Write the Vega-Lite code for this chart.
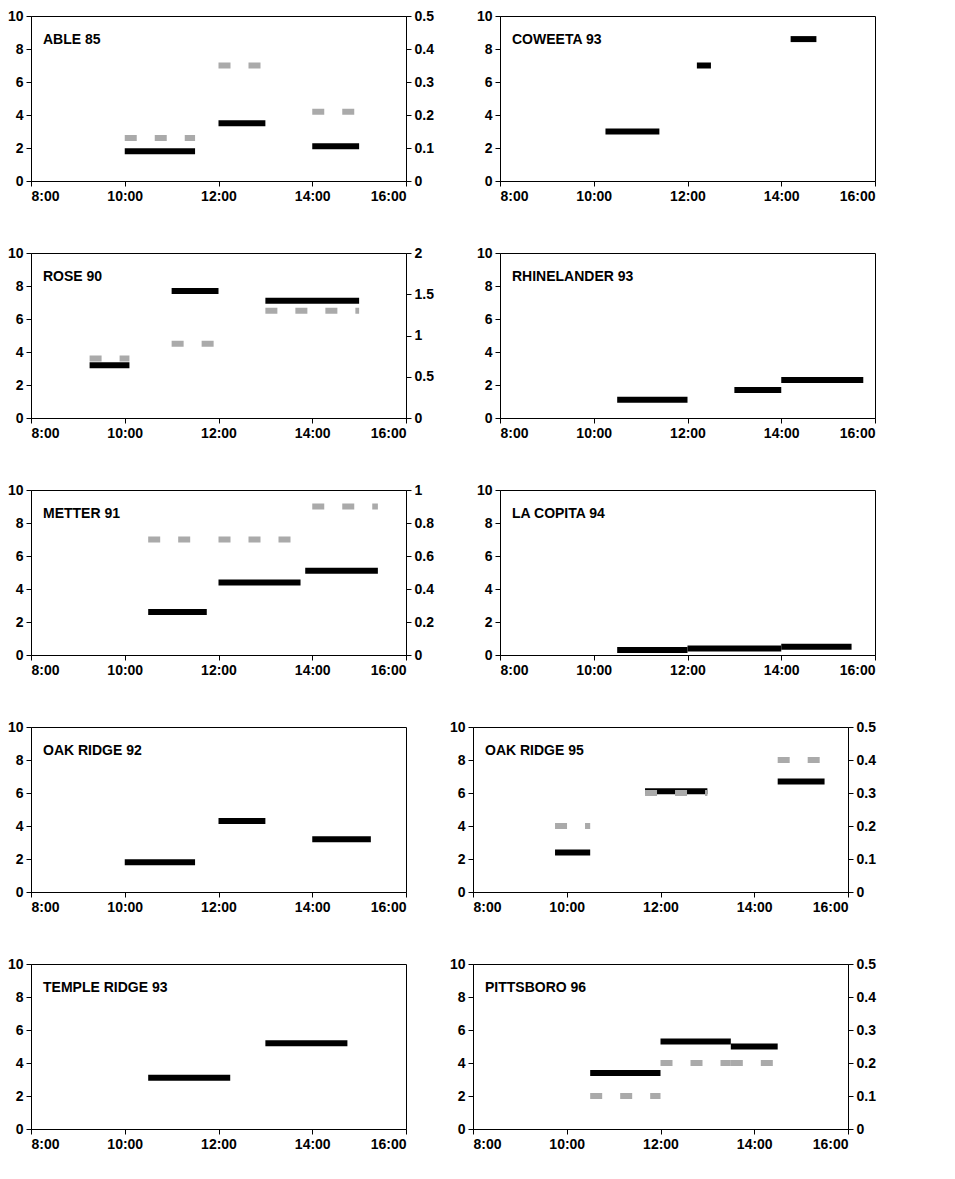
{
  "$schema": "https://vega.github.io/schema/vega-lite/v6.json",
  "padding": {"left": 6, "top": 8, "right": 8, "bottom": 4},
  "config": {
    "font": "Liberation Sans",
    "view": {"stroke": "black", "strokeWidth": 1},
    "axis": {"grid": false, "title": null, "labelFontSize": 14, "labelFontWeight": "bold", "labelColor": "black", "domainColor": "black", "tickColor": "black", "tickSize": 5, "labelPadding": 3, "format": "~r"},
    "title": {"anchor": "start", "frame": "group", "fontSize": 14, "fontWeight": "bold", "offset": -38, "dx": 12, "color": "black"},
    "concat": {"spacing": 41}
  },
  "data": {"values": [
    {"p": "ABLE 85", "k": "b", "s": 10, "e": 11.5, "v": 1.8},
    {"p": "ABLE 85", "k": "b", "s": 12, "e": 13, "v": 3.5},
    {"p": "ABLE 85", "k": "b", "s": 14, "e": 15, "v": 2.1},
    {"p": "ABLE 85", "k": "g", "s": 10, "e": 11.5, "v": 0.13},
    {"p": "ABLE 85", "k": "g", "s": 12, "e": 13, "v": 0.35},
    {"p": "ABLE 85", "k": "g", "s": 14, "e": 15, "v": 0.21},
    {"p": "COWEETA 93", "k": "b", "s": 10.25, "e": 11.4, "v": 3.0},
    {"p": "COWEETA 93", "k": "b", "s": 12.2, "e": 12.5, "v": 7.0},
    {"p": "COWEETA 93", "k": "b", "s": 14.2, "e": 14.75, "v": 8.6},
    {"p": "ROSE 90", "k": "b", "s": 9.25, "e": 10.1, "v": 3.2},
    {"p": "ROSE 90", "k": "b", "s": 11, "e": 12, "v": 7.7},
    {"p": "ROSE 90", "k": "b", "s": 13, "e": 15, "v": 7.1},
    {"p": "ROSE 90", "k": "g", "s": 9.25, "e": 10.1, "v": 0.72},
    {"p": "ROSE 90", "k": "g", "s": 11, "e": 12, "v": 0.9},
    {"p": "ROSE 90", "k": "g", "s": 13, "e": 15, "v": 1.3},
    {"p": "RHINELANDER 93", "k": "b", "s": 10.5, "e": 12, "v": 1.1},
    {"p": "RHINELANDER 93", "k": "b", "s": 13, "e": 14, "v": 1.7},
    {"p": "RHINELANDER 93", "k": "b", "s": 14, "e": 15.75, "v": 2.3},
    {"p": "METTER 91", "k": "b", "s": 10.5, "e": 11.75, "v": 2.6},
    {"p": "METTER 91", "k": "b", "s": 12, "e": 13.75, "v": 4.4},
    {"p": "METTER 91", "k": "b", "s": 13.85, "e": 15.4, "v": 5.1},
    {"p": "METTER 91", "k": "g", "s": 10.5, "e": 11.75, "v": 0.7},
    {"p": "METTER 91", "k": "g", "s": 12, "e": 13.75, "v": 0.7},
    {"p": "METTER 91", "k": "g", "s": 14, "e": 15.4, "v": 0.9},
    {"p": "LA COPITA 94", "k": "b", "s": 10.5, "e": 12, "v": 0.3},
    {"p": "LA COPITA 94", "k": "b", "s": 12, "e": 14, "v": 0.4},
    {"p": "LA COPITA 94", "k": "b", "s": 14, "e": 15.5, "v": 0.5},
    {"p": "OAK RIDGE 92", "k": "b", "s": 10, "e": 11.5, "v": 1.8},
    {"p": "OAK RIDGE 92", "k": "b", "s": 12, "e": 13, "v": 4.3},
    {"p": "OAK RIDGE 92", "k": "b", "s": 14, "e": 15.25, "v": 3.2},
    {"p": "OAK RIDGE 95", "k": "b", "s": 9.75, "e": 10.5, "v": 2.4},
    {"p": "OAK RIDGE 95", "k": "b", "s": 11.67, "e": 13, "v": 6.1},
    {"p": "OAK RIDGE 95", "k": "b", "s": 14.5, "e": 15.5, "v": 6.7},
    {"p": "OAK RIDGE 95", "k": "g", "s": 9.75, "e": 10.5, "v": 0.2},
    {"p": "OAK RIDGE 95", "k": "g", "s": 11.67, "e": 13, "v": 0.3},
    {"p": "OAK RIDGE 95", "k": "g", "s": 14.5, "e": 15.5, "v": 0.4},
    {"p": "TEMPLE RIDGE 93", "k": "b", "s": 10.5, "e": 12.25, "v": 3.1},
    {"p": "TEMPLE RIDGE 93", "k": "b", "s": 13, "e": 14.75, "v": 5.2},
    {"p": "PITTSBORO 96", "k": "b", "s": 10.5, "e": 12, "v": 3.4},
    {"p": "PITTSBORO 96", "k": "b", "s": 12, "e": 13.5, "v": 5.3},
    {"p": "PITTSBORO 96", "k": "b", "s": 13.5, "e": 14.5, "v": 5.0},
    {"p": "PITTSBORO 96", "k": "g", "s": 10.5, "e": 12, "v": 0.1},
    {"p": "PITTSBORO 96", "k": "g", "s": 12, "e": 13.5, "v": 0.2},
    {"p": "PITTSBORO 96", "k": "g", "s": 13.5, "e": 14.4, "v": 0.2}
  ]},
  "vconcat": [
    {"hconcat": [
      {"width": 375, "height": 165, "title": "ABLE 85", "transform": [{"filter": "datum.p=='ABLE 85'"}], "resolve": {"scale": {"y": "independent"}}, "layer": [
        {"transform": [{"filter": "datum.k=='b'"}], "mark": {"type": "rule", "strokeWidth": 6, "color": "black"}, "encoding": {"x": {"field": "s", "type": "quantitative", "scale": {"domain": [8, 16]}, "axis": {"values": [8, 10, 12, 14, 16], "labelExpr": "datum.value+':00'"}}, "x2": {"field": "e"}, "y": {"field": "v", "type": "quantitative", "scale": {"domain": [0, 10]}, "axis": {"values": [0, 2, 4, 6, 8, 10]}}}},
        {"transform": [{"filter": "datum.k=='g'"}], "mark": {"type": "rule", "strokeWidth": 6, "color": "#aaaaaa", "strokeDash": [12, 18]}, "encoding": {"x": {"field": "s", "type": "quantitative"}, "x2": {"field": "e"}, "y": {"field": "v", "type": "quantitative", "scale": {"domain": [0, 0.5]}, "axis": {"orient": "right", "values": [0, 0.1, 0.2, 0.3, 0.4, 0.5]}}}}
      ]},
      {"width": 375, "height": 165, "title": "COWEETA 93", "transform": [{"filter": "datum.p=='COWEETA 93'"}], "layer": [
        {"transform": [{"filter": "datum.k=='b'"}], "mark": {"type": "rule", "strokeWidth": 6, "color": "black"}, "encoding": {"x": {"field": "s", "type": "quantitative", "scale": {"domain": [8, 16]}, "axis": {"values": [8, 10, 12, 14, 16], "labelExpr": "datum.value+':00'"}}, "x2": {"field": "e"}, "y": {"field": "v", "type": "quantitative", "scale": {"domain": [0, 10]}, "axis": {"values": [0, 2, 4, 6, 8, 10]}}}}
      ]}
    ]},
    {"hconcat": [
      {"width": 375, "height": 165, "title": "ROSE 90", "transform": [{"filter": "datum.p=='ROSE 90'"}], "resolve": {"scale": {"y": "independent"}}, "layer": [
        {"transform": [{"filter": "datum.k=='b'"}], "mark": {"type": "rule", "strokeWidth": 6, "color": "black"}, "encoding": {"x": {"field": "s", "type": "quantitative", "scale": {"domain": [8, 16]}, "axis": {"values": [8, 10, 12, 14, 16], "labelExpr": "datum.value+':00'"}}, "x2": {"field": "e"}, "y": {"field": "v", "type": "quantitative", "scale": {"domain": [0, 10]}, "axis": {"values": [0, 2, 4, 6, 8, 10]}}}},
        {"transform": [{"filter": "datum.k=='g'"}], "mark": {"type": "rule", "strokeWidth": 6, "color": "#aaaaaa", "strokeDash": [12, 18]}, "encoding": {"x": {"field": "s", "type": "quantitative"}, "x2": {"field": "e"}, "y": {"field": "v", "type": "quantitative", "scale": {"domain": [0, 2]}, "axis": {"orient": "right", "values": [0, 0.5, 1, 1.5, 2]}}}}
      ]},
      {"width": 375, "height": 165, "title": "RHINELANDER 93", "transform": [{"filter": "datum.p=='RHINELANDER 93'"}], "layer": [
        {"transform": [{"filter": "datum.k=='b'"}], "mark": {"type": "rule", "strokeWidth": 6, "color": "black"}, "encoding": {"x": {"field": "s", "type": "quantitative", "scale": {"domain": [8, 16]}, "axis": {"values": [8, 10, 12, 14, 16], "labelExpr": "datum.value+':00'"}}, "x2": {"field": "e"}, "y": {"field": "v", "type": "quantitative", "scale": {"domain": [0, 10]}, "axis": {"values": [0, 2, 4, 6, 8, 10]}}}}
      ]}
    ]},
    {"hconcat": [
      {"width": 375, "height": 165, "title": "METTER 91", "transform": [{"filter": "datum.p=='METTER 91'"}], "resolve": {"scale": {"y": "independent"}}, "layer": [
        {"transform": [{"filter": "datum.k=='b'"}], "mark": {"type": "rule", "strokeWidth": 6, "color": "black"}, "encoding": {"x": {"field": "s", "type": "quantitative", "scale": {"domain": [8, 16]}, "axis": {"values": [8, 10, 12, 14, 16], "labelExpr": "datum.value+':00'"}}, "x2": {"field": "e"}, "y": {"field": "v", "type": "quantitative", "scale": {"domain": [0, 10]}, "axis": {"values": [0, 2, 4, 6, 8, 10]}}}},
        {"transform": [{"filter": "datum.k=='g'"}], "mark": {"type": "rule", "strokeWidth": 6, "color": "#aaaaaa", "strokeDash": [12, 18]}, "encoding": {"x": {"field": "s", "type": "quantitative"}, "x2": {"field": "e"}, "y": {"field": "v", "type": "quantitative", "scale": {"domain": [0, 1]}, "axis": {"orient": "right", "values": [0, 0.2, 0.4, 0.6, 0.8, 1]}}}}
      ]},
      {"width": 375, "height": 165, "title": "LA COPITA 94", "transform": [{"filter": "datum.p=='LA COPITA 94'"}], "layer": [
        {"transform": [{"filter": "datum.k=='b'"}], "mark": {"type": "rule", "strokeWidth": 6, "color": "black"}, "encoding": {"x": {"field": "s", "type": "quantitative", "scale": {"domain": [8, 16]}, "axis": {"values": [8, 10, 12, 14, 16], "labelExpr": "datum.value+':00'"}}, "x2": {"field": "e"}, "y": {"field": "v", "type": "quantitative", "scale": {"domain": [0, 10]}, "axis": {"values": [0, 2, 4, 6, 8, 10]}}}}
      ]}
    ]},
    {"hconcat": [
      {"width": 375, "height": 165, "title": "OAK RIDGE 92", "transform": [{"filter": "datum.p=='OAK RIDGE 92'"}], "layer": [
        {"transform": [{"filter": "datum.k=='b'"}], "mark": {"type": "rule", "strokeWidth": 6, "color": "black"}, "encoding": {"x": {"field": "s", "type": "quantitative", "scale": {"domain": [8, 16]}, "axis": {"values": [8, 10, 12, 14, 16], "labelExpr": "datum.value+':00'"}}, "x2": {"field": "e"}, "y": {"field": "v", "type": "quantitative", "scale": {"domain": [0, 10]}, "axis": {"values": [0, 2, 4, 6, 8, 10]}}}}
      ]},
      {"width": 375, "height": 165, "title": "OAK RIDGE 95", "transform": [{"filter": "datum.p=='OAK RIDGE 95'"}], "resolve": {"scale": {"y": "independent"}}, "layer": [
        {"transform": [{"filter": "datum.k=='b'"}], "mark": {"type": "rule", "strokeWidth": 6, "color": "black"}, "encoding": {"x": {"field": "s", "type": "quantitative", "scale": {"domain": [8, 16]}, "axis": {"values": [8, 10, 12, 14, 16], "labelExpr": "datum.value+':00'"}}, "x2": {"field": "e"}, "y": {"field": "v", "type": "quantitative", "scale": {"domain": [0, 10]}, "axis": {"values": [0, 2, 4, 6, 8, 10]}}}},
        {"transform": [{"filter": "datum.k=='g'"}], "mark": {"type": "rule", "strokeWidth": 6, "color": "#aaaaaa", "strokeDash": [12, 18]}, "encoding": {"x": {"field": "s", "type": "quantitative"}, "x2": {"field": "e"}, "y": {"field": "v", "type": "quantitative", "scale": {"domain": [0, 0.5]}, "axis": {"orient": "right", "values": [0, 0.1, 0.2, 0.3, 0.4, 0.5]}}}}
      ]}
    ]},
    {"hconcat": [
      {"width": 375, "height": 165, "title": "TEMPLE RIDGE 93", "transform": [{"filter": "datum.p=='TEMPLE RIDGE 93'"}], "layer": [
        {"transform": [{"filter": "datum.k=='b'"}], "mark": {"type": "rule", "strokeWidth": 6, "color": "black"}, "encoding": {"x": {"field": "s", "type": "quantitative", "scale": {"domain": [8, 16]}, "axis": {"values": [8, 10, 12, 14, 16], "labelExpr": "datum.value+':00'"}}, "x2": {"field": "e"}, "y": {"field": "v", "type": "quantitative", "scale": {"domain": [0, 10]}, "axis": {"values": [0, 2, 4, 6, 8, 10]}}}}
      ]},
      {"width": 375, "height": 165, "title": "PITTSBORO 96", "transform": [{"filter": "datum.p=='PITTSBORO 96'"}], "resolve": {"scale": {"y": "independent"}}, "layer": [
        {"transform": [{"filter": "datum.k=='b'"}], "mark": {"type": "rule", "strokeWidth": 6, "color": "black"}, "encoding": {"x": {"field": "s", "type": "quantitative", "scale": {"domain": [8, 16]}, "axis": {"values": [8, 10, 12, 14, 16], "labelExpr": "datum.value+':00'"}}, "x2": {"field": "e"}, "y": {"field": "v", "type": "quantitative", "scale": {"domain": [0, 10]}, "axis": {"values": [0, 2, 4, 6, 8, 10]}}}},
        {"transform": [{"filter": "datum.k=='g'"}], "mark": {"type": "rule", "strokeWidth": 6, "color": "#aaaaaa", "strokeDash": [12, 18]}, "encoding": {"x": {"field": "s", "type": "quantitative"}, "x2": {"field": "e"}, "y": {"field": "v", "type": "quantitative", "scale": {"domain": [0, 0.5]}, "axis": {"orient": "right", "values": [0, 0.1, 0.2, 0.3, 0.4, 0.5]}}}}
      ]}
    ]}
  ]
}
